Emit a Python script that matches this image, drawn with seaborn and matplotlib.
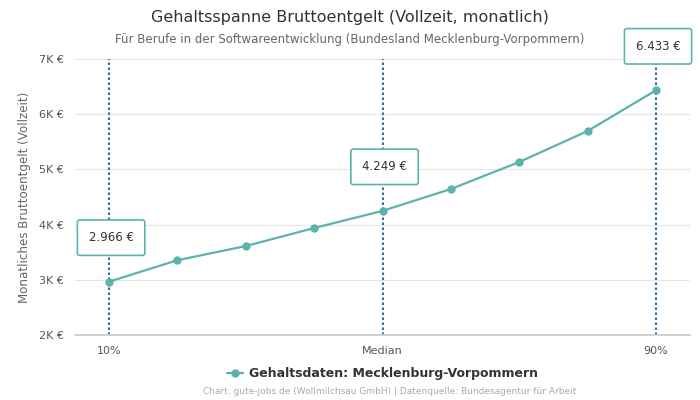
import matplotlib
matplotlib.use("Agg")
import matplotlib.pyplot as plt
import seaborn as sns
import pandas as pd

percentiles = ["10%", "20%", "30%", "40%", "Median", "60%", "70%", "80%", "90%"]
values = [2966, 3355, 3612, 3938, 4249, 4645, 5134, 5696, 6433]
tick_labels = ["10%", "Median", "90%"]
tick_idx = [0, 4, 8]
y_ticks = [2000, 3000, 4000, 5000, 6000, 7000]
y_tick_labels = ["2K €", "3K €", "4K €", "5K €", "6K €", "7K €"]
box_labels = ["2.966 €", "4.249 €", "6.433 €"]
series_name = "Gehaltsdaten: Mecklenburg-Vorpommern"

sns.set_theme(style="white")
plt.rcParams['font.family'] = ['DejaVu Sans']

df = pd.DataFrame({"pos": range(len(values)), "value": values, "series": series_name})

fig = plt.figure(figsize=(7, 4), dpi=100)
ax = fig.add_axes([0.107, 0.1625, 0.879, 0.69])

teal = "#5cb3ad"
sns.lineplot(data=df, x="pos", y="value", hue="series", palette=[teal], marker="o",
             markersize=6, markeredgewidth=0, linewidth=1.6, ax=ax, zorder=3)

ax.set_xlim(-0.5, 8.5)
ax.set_ylim(2000, 7000)
ax.set_yticks(y_ticks)
ax.set_yticklabels(y_tick_labels)
ax.set_xticks(tick_idx)
ax.set_xticklabels(tick_labels)
ax.tick_params(axis='both', labelsize=8, colors="#555555", length=0, pad=8)
ax.set_xlabel("")
ax.set_ylabel("Monatliches Bruttoentgelt (Vollzeit)", fontsize=8.6, color="#666666", labelpad=6)
ax.yaxis.grid(True, color="#e6e6e6", linewidth=0.8)
ax.set_axisbelow(True)
for s in ["left", "right", "top"]:
    ax.spines[s].set_visible(False)
ax.spines["bottom"].set_color("#cccccc")

for i, lab in zip(tick_idx, box_labels):
    ax.axvline(i, color="#2a6fa8", linestyle=(0, (1.2, 1.2)), linewidth=1.5, zorder=2)
    ax.annotate(lab, xy=(i, values[i]), xytext=(2, 44), textcoords="offset pixels",
                ha="center", va="center", fontsize=8.5, color="#333333", zorder=5,
                annotation_clip=False,
                bbox=dict(boxstyle="round,pad=0.95,rounding_size=0.2", fc="white", ec=teal, lw=1.2))

leg = ax.legend(loc="upper center", bbox_to_anchor=(0.5, -0.075), frameon=False,
                prop={"weight": "bold", "size": 9}, handlelength=1.3, handletextpad=0.5)
for t in leg.get_texts():
    t.set_color("#333333")

fig.text(0.5, 0.957, "Gehaltsspanne Bruttoentgelt (Vollzeit, monatlich)", ha="center", va="center",
         fontsize=11.5, color="#333333")
fig.text(0.5, 0.902, "Für Berufe in der Softwareentwicklung (Bundesland Mecklenburg-Vorpommern)",
         ha="center", va="center", fontsize=8.5, color="#666666")
fig.text(0.556, 0.02, "Chart: gute-jobs.de (Wollmilchsau GmbH) | Datenquelle: Bundesagentur für Arbeit",
         ha="center", va="center", fontsize=6.5, color="#aaaaaa")

fig.savefig("out.png", dpi=100)
